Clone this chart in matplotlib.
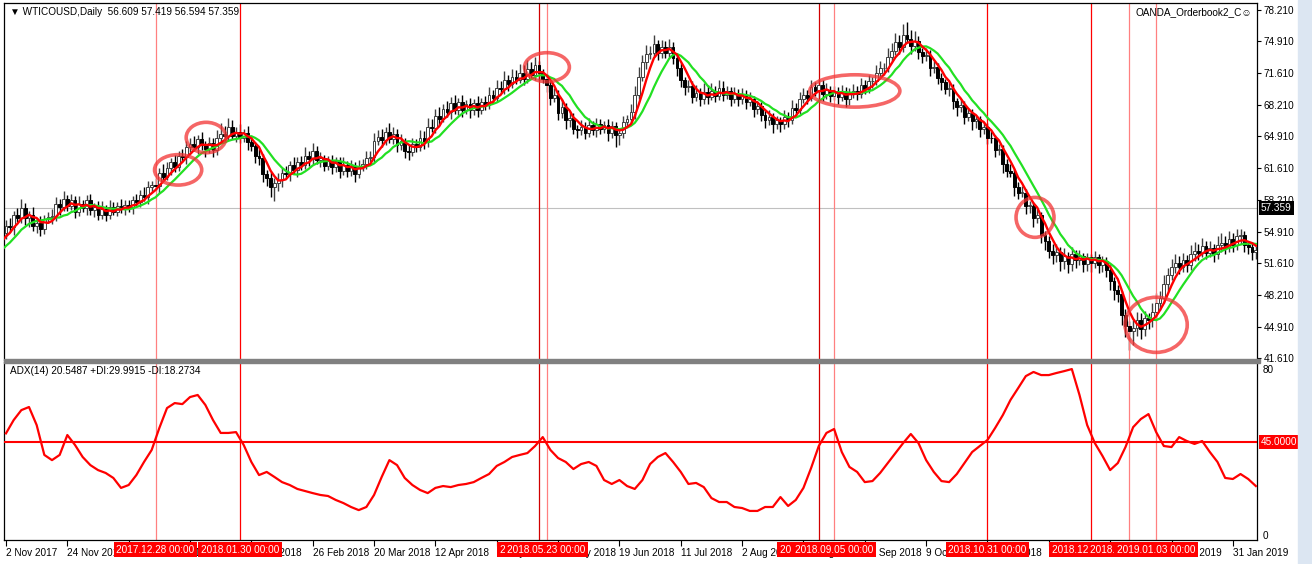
import numpy as np
import pandas as pd
import matplotlib
matplotlib.use('Agg')
import matplotlib.pyplot as plt
from matplotlib.patches import Ellipse, Rectangle
from matplotlib.transforms import blended_transform_factory

plt.rcParams['font.family'] = ['Liberation Sans', 'DejaVu Sans']
FS = 7.2

# daily closes, 10 bars before the visible window then 327 visible bars
n_pre = 10
closes = [
    51.5, 51.9, 52.3, 52.0, 52.6, 53.2, 53.6, 53.9, 54.2, 54.8,
    55.5, 55.4, 56.7, 56.3, 57.4, 56.3, 56.7, 55.5, 55.8, 55.2, 56.2, 56.4, 56.5, 57.8, 57.5, 58.3,
    57.6, 58.2, 57.0, 57.8, 57.4, 58.2, 57.2, 57.5, 56.6, 57.3, 56.7, 57.5, 57.0, 57.6, 57.3, 57.7,
    57.5, 58.2, 58.0, 58.8, 58.5, 59.6, 59.8, 59.7, 61.1, 60.7, 61.6, 62.2, 61.7, 62.9, 62.7, 63.8,
    64.1, 63.8, 64.6, 64.0, 63.6, 64.2, 63.5, 64.7, 65.2, 65.0, 65.9, 65.0, 65.4, 64.7, 65.3, 64.3,
    63.9, 62.9, 62.6, 61.0, 60.5, 59.6, 60.0, 60.3, 61.1, 61.0, 61.9, 61.4, 62.2, 61.9, 62.9, 62.5,
    63.4, 62.4, 62.6, 61.8, 62.3, 61.7, 62.3, 61.3, 61.9, 61.3, 61.8, 61.0, 61.7, 62.0, 62.6, 62.7,
    64.4, 64.9, 64.5, 65.4, 64.6, 65.2, 64.0, 64.4, 63.4, 63.3, 64.1, 63.8, 64.8, 64.3, 65.9, 65.8,
    67.1, 66.8, 67.8, 67.5, 68.4, 67.7, 68.5, 67.7, 68.3, 67.7, 68.4, 67.7, 68.5, 68.2, 69.3, 69.0,
    70.0, 69.9, 70.9, 70.4, 71.2, 70.9, 71.6, 71.0, 72.0, 71.4, 72.4, 71.6, 71.0, 70.3, 69.0, 69.3,
    67.4, 68.0, 66.6, 66.9, 65.7, 65.6, 65.9, 65.3, 66.1, 65.6, 66.2, 65.7, 66.1, 65.3, 66.0, 65.1,
    65.3, 66.4, 66.7, 67.5, 69.3, 71.2, 72.7, 73.6, 73.7, 74.6, 73.7, 74.3, 73.7, 74.3, 73.2, 72.1,
    70.8, 70.1, 70.2, 69.1, 69.5, 68.8, 69.6, 69.1, 69.7, 69.2, 70.0, 69.3, 69.7, 68.9, 69.4, 68.8,
    69.3, 68.5, 68.8, 67.8, 68.1, 67.2, 66.6, 67.0, 66.2, 66.6, 66.2, 67.0, 66.6, 67.9, 67.7, 68.9,
    69.3, 69.0, 70.1, 69.7, 70.3, 69.4, 69.8, 69.2, 69.7, 69.1, 69.6, 68.9, 69.5, 69.7, 69.4, 70.3,
    69.9, 70.7, 70.7, 71.6, 72.1, 72.1, 73.3, 73.9, 74.8, 74.3, 75.6, 75.2, 74.4, 75.0, 73.8, 73.4,
    73.5, 72.1, 72.2, 71.1, 70.6, 69.9, 69.9, 68.6, 68.0, 68.2, 67.0, 67.4, 66.5, 66.7, 65.7, 65.9,
    64.8, 64.7, 63.5, 63.6, 62.0, 61.3, 61.1, 59.6, 59.0, 59.0, 57.6, 57.6, 56.3, 56.6, 54.5, 53.9,
    52.9, 52.4, 52.8, 51.8, 52.3, 51.5, 52.5, 51.9, 52.3, 51.5, 52.2, 51.6, 52.2, 51.4, 51.8, 50.9,
    49.7, 48.8, 48.3, 46.1, 45.0, 44.4, 44.8, 45.6, 44.7, 45.8, 45.6, 46.5, 47.4, 47.9, 49.4, 50.3,
    51.2, 51.6, 51.2, 51.9, 51.4, 52.5, 52.9, 52.7, 53.4, 52.7, 53.2, 52.5, 53.5, 53.7, 53.3, 54.1,
    53.5, 54.4, 54.5, 53.5, 53.3, 52.8, 53.0,
]

wick_up = [
    .6, .8, .4, .7, .9, .5, .4, .8, .5, .7, .4, .6, .8, .7, .5, .9,
    .5, .7, .5, .8, .4, .6, .7, .4, .6, .8, .4, .7, .5, .4, .7, .5,
    .5, .4, .7, .5, .8, .6, .4, .7, .5, .9, .6, .4, .8, .5, .7, .6,
    .7, .9, .5, .8, .4, .7, .5, .9, 1.1, .8, 1.0, .7, .5, .8, .4, .7,
    .5, .4, .7, .5, .4, .7, .5, .8, .5, .7, .4, .8, .5, .7, .9, .5,
    .8, .5, .7, .4, .6, .7, .4, .5, .8, .4, .6, .4, .7, .5, .8, .7,
    .9, .7, .8, .5, .9, .7, .5, .8, .4, .6, .7, .5, .8, .7, 1.0, .8,
    .7, .9, .5, .8, .7, .9, .5, .8, .4, .7, .5, .8, .5, .7, .8, .5,
    .8, .7, .9, .5, .8, .7, .9, .8, 1.0, .7, .9, .5, .4, .5, .4, .7,
    .5, .8, .4, .7, .5, .4, .7, .5, .8, .4, .7, .5, .4, .7, .5, .4,
    .5, .7, .5, .8, .9, 1.0, .8, .9, .7, 1.0, .5, .8, .7, .9, .5, .4,
    .5, .4, .7, .5, .8, .5, .9, .7, .8, .5, .9, .7, .5, .4, .7, .5,
    .7, .5, .8, .4, .5, .4, .5, .7, .4, .5, .4, .7, .5, .8, .5, .7,
    .7, .5, .8, .5, .7, .5, .7, .4, .5, .4, .7, .5, .5, .7, .5, .8,
    .5, .7, .5, .8, .7, .5, .9, .8, 1.0, .8, 1.1, 1.3, .9, 1.0, .5, .4,
    .7, .5, .7, .4, .5, .4, .7, .5, .4, .7, .4, .5, .4, .5, .4, .5,
    .4, .7, .4, .5, .4, .5, .7, .4, .5, .7, .4, .5, .4, .7, .4, .5,
    .5, .7, .8, .5, .9, .5, .8, .5, .7, .4, .5, .4, .7, .4, .5, .4,
    .5, .4, .5, .4, .7, .5, .8, .9, .7, .8, .5, .9, 1.0, .8, .9, .8,
    .8, .9, .7, .8, .5, 1.0, .9, .7, .8, .5, .7, .4, .9, 1.1, .7, .9,
    .7, .8, .7, .5, .4, .5, .4,
]

wick_dn = [
    .7, .5, .8, .4, .5, .7, .9, .5, .7, .8, .5, .4, .7, .5, .8, .4,
    .5, .4, .7, .5, .4, .7, .5, .8, .5, .4, .7, .5, .4, .5, .4, .7,
    .5, .7, .4, .5, .4, .7, .5, .4, .7, .5, .4, .7, .5, .4, .5, .7,
    .5, .4, .7, .5, .8, .4, .7, .5, .4, .7, .5, .4, .7, .5, .4, .8,
    .5, .8, .7, .9, .8, 1.1, 1.5, .8, .7, .5, .8, .4, .7, .5, .4, .7,
    .5, .4, .7, .5, .4, .7, .5, .8, .4, .7, .5, .9, .5, .4, .5, .4,
    .5, .4, .7, .5, .4, .5, .7, .5, .8, .9, .4, .5, .4, .7, .5, .4,
    .5, .7, .4, .5, .7, .4, .5, .7, .4, .8, .5, .7, .4, .5, .4, .5,
    .5, .4, .5, .7, .4, .5, .4, .7, .5, .4, .5, .7, .5, .7, .8, .5,
    .8, .5, .9, .7, .5, .8, .5, .7, .4, .5, .7, .5, .4, .9, .5, 1.3,
    1.1, .5, .4, .5, .7, .4, .5, .7, .5, .4, .7, .5, .5, .4, .7, .8,
    .7, .8, .5, .7, .5, .7, .5, .8, .4, .7, .5, .7, .5, .8, .5, .7,
    .5, .7, .4, .8, .5, .7, .8, .5, .9, .5, .8, .5, .7, .4, .5, .4,
    .5, .7, .4, .5, .7, .8, .5, .7, .5, .8, .5, .9, .7, .5, .7, .4,
    .5, .4, .7, .4, .5, .7, .4, .5, .4, .7, .5, .4, .8, .5, .7, .8,
    .5, .8, .5, .7, .8, .5, .7, .8, .9, .5, .8, .5, .9, .7, .8, .5,
    .7, .5, .8, .5, .9, .7, .5, .9, .7, .5, .8, .7, .9, .5, .8, .9,
    .8, .9, .7, 1.0, .8, .9, .7, .8, .5, .8, .7, .9, .5, .8, .7, .8,
    .9, 1.1, .8, 1.0, 1.2, 2.0, 1.4, .9, 1.1, .8, .9, .7, .8, .7, .5, .7,
    .5, .7, .8, .5, .7, .5, .7, .8, .5, .7, .5, .8, .5, .7, .8, .5,
    .7, .5, .8, .7, .8, .9, .8,
]

# ADX(14), one reading every 2 bars
adx_step = 2
adx = [
    49.0, 55.4, 60.2, 61.7, 53.0, 38.6, 36.1, 38.6, 48.2, 43.4, 37.6, 33.7, 31.3, 29.9, 27.5, 22.7,
    24.1, 28.9, 35.2, 41.0, 51.6, 61.2, 63.6, 63.1, 66.5, 67.5, 62.7, 55.4, 49.2, 49.2, 49.6, 43.4,
    35.2, 28.9, 30.4, 28.0, 25.5, 24.1, 22.2, 21.2, 20.2, 19.3, 18.8, 16.9, 15.4, 13.5, 12.0, 13.5,
    19.3, 28.0, 36.1, 33.7, 27.5, 24.1, 21.7, 20.2, 22.7, 23.6, 23.1, 24.1, 24.6, 25.5, 27.5, 29.4,
    33.3, 35.2, 37.6, 38.6, 39.5, 42.9, 47.2, 41.0, 37.1, 35.2, 31.8, 34.2, 35.2, 33.3, 26.5, 24.6,
    26.5, 23.6, 22.2, 26.5, 34.2, 37.6, 39.5, 35.2, 30.4, 24.6, 25.1, 23.1, 17.8, 15.9, 15.9, 13.5,
    13.0, 11.6, 11.6, 13.5, 13.5, 18.3, 14.0, 16.9, 22.7, 32.3, 42.9, 49.2, 51.1, 40.0, 32.8, 30.4,
    25.5, 26.0, 29.9, 34.7, 39.5, 44.3, 48.7, 44.3, 36.1, 30.4, 26.0, 25.5, 29.4, 34.7, 40.0, 42.9,
    45.8, 51.6, 57.8, 65.1, 70.8, 76.6, 78.6, 77.1, 77.1, 78.1, 79.0, 80.0, 67.5, 53.0, 44.3, 38.1,
    31.3, 34.7, 42.4, 52.0, 55.9, 58.3, 49.6, 42.9, 42.4, 47.2, 45.3, 43.9, 45.3, 40.0, 35.2, 27.5,
    27.0, 29.4, 27.0, 23.6,
]
adx_level = 45.0

price_ticks = [41.61, 44.91, 48.21, 51.61, 54.91, 58.21, 61.61, 64.91, 68.21, 71.61, 74.91, 78.21]
last_price = 57.359

date_every = 16
date_labels = ['2 Nov 2017', '24 Nov 2017', '18 Dec 2017', '11 Jan 2018', '2 Feb 2018',
               '26 Feb 2018', '20 Mar 2018', '12 Apr 2018', '4 May 2018', '28 May 2018',
               '19 Jun 2018', '11 Jul 2018', '2 Aug 2018', '24 Aug 2018', '17 Sep 2018',
               '9 Oct 2018', '31 Oct 2018', '22 Nov 2018', '14 Dec 2018', '9 Jan 2019',
               '31 Jan 2019']

# vertical marker lines (bar index) and their time labels
vline_bars = [39, 61, 139, 141, 212, 216, 256, 283, 293, 300]
vline_labels = ['2017.12.28 00:00', '2018.01.30 00:00', '2018.05.21 00:00', '2018.05.23 00:00',
                '2018.08.30 00:00', '2018.09.05 00:00', '2018.10.31 00:00', '2018.12.07 00:00',
                '2018.12.21 00:00', '2019.01.03 00:00']
vline_colors = ['#ff8080', '#ff0000', '#d00000', '#ff8080', '#d00000', '#ff8080',
                '#ff0000', '#ff0000', '#ff8080', '#ff8080']

# hand-drawn circles: (bar, price, width in bars, height in price)
circles = [(44.9, 61.4, 12.3, 3.2), (52.2, 64.8, 10.4, 3.2), (141.1, 72.2, 11.7, 3.05),
           (221.4, 69.7, 23.5, 3.4), (268.4, 56.4, 9.9, 4.2), (300.0, 45.1, 16.2, 5.8)]

W, H = 1312, 564
fig = plt.figure(figsize=(W / 100, H / 100), dpi=100)
fig.patch.set_facecolor('white')

ax1 = fig.add_axes([4 / W, 1 - 360 / H, 1253 / W, 357 / H])
ax2 = fig.add_axes([4 / W, 1 - 540 / H, 1253 / W, 178 / H])

c = np.array(closes)
x = np.arange(len(c)) - n_pre
o = np.r_[c[0], c[:-1]]
vis = x >= 0
xv, cv, ov = x[vis], c[vis], o[vis]
hi = np.maximum(cv, ov) + np.array(wick_up)
lo = np.minimum(cv, ov) - np.array(wick_dn)
up = cv >= ov
body_lo = np.minimum(cv, ov)
body_h = np.maximum(np.abs(cv - ov), 0.06)

ax1.vlines(xv[up], lo[up], hi[up], color='#404040', lw=1.0, zorder=2)
ax1.vlines(xv[~up], lo[~up], hi[~up], color='black', lw=1.0, zorder=2)
ax1.bar(xv[up], body_h[up], bottom=body_lo[up], width=0.72, color='white',
        edgecolor='#404040', linewidth=0.7, zorder=3)
ax1.bar(xv[~up], body_h[~up], bottom=body_lo[~up], width=0.72, color='black',
        edgecolor='black', linewidth=0.7, zorder=3)

s = pd.Series(c)
ma_fast = s.rolling(5).mean()
ma_slow = s.rolling(10).mean()
ax1.plot(x, ma_slow, color='#22e022', lw=1.6, zorder=4)
ax1.plot(x, ma_fast, color='#ff0000', lw=1.7, zorder=5)

ax1.axhline(last_price, color='#c0c0c0', lw=0.8, zorder=1)

for bx, py, w, h in circles:
    ax1.add_patch(Ellipse((bx, py), w, h, fill=False, ec=(0.95, 0.2, 0.2, 0.75), lw=2.6, zorder=6))

xlim = (-0.52, 326.3)
ax1.set_xlim(*xlim)
ax1.set_ylim(41.40, 78.95)
ax1.set_xticks([])
ax1.yaxis.tick_right()
ax1.set_yticks(price_ticks)
ax1.set_yticklabels(['%.3f' % v for v in price_ticks])
ax1.tick_params(axis='y', length=3, width=0.8, pad=2, labelsize=FS)
ax1.spines['bottom'].set_visible(False)

# ADX panel
xa = np.arange(len(adx)) * adx_step
ax2.plot(xa, adx, color='#ff0000', lw=1.6, zorder=4)
ax2.axhline(adx_level, color='#ff0000', lw=1.5, zorder=3)
ax2.set_xlim(*xlim)
ax2.set_ylim(-2.41, 83.4)
ax2.yaxis.tick_right()
ax2.set_yticks([0, 80])
ax2.set_yticklabels(['0', '80'])
ax2.tick_params(axis='y', length=0, pad=4, labelsize=FS)
tick_pos = np.arange(len(date_labels)) * date_every
ax2.set_xticks(tick_pos)
ax2.set_xticklabels(date_labels, ha='left')
ax2.tick_params(axis='x', length=4, width=0.8, pad=2, labelsize=FS)
ax2.spines['top'].set_visible(False)

for ax in (ax1, ax2):
    for sp in ax.spines.values():
        sp.set_linewidth(0.9)
    for bx, col in zip(vline_bars, vline_colors):
        ax.axvline(bx, color=col, lw=0.9, zorder=2)

# time labels of the vertical lines on the date axis
tb = blended_transform_factory(ax2.transData, ax2.transAxes)
for bx, lab in zip(vline_bars, vline_labels):
    ax2.text(bx, -0.056, lab, transform=tb, ha='center', va='center', color='white',
             fontsize=FS, zorder=10, clip_on=False,
             bbox=dict(boxstyle='square,pad=0.25', fc='#ff0000', ec='none'))

# value labels on the price scales
tp = blended_transform_factory(ax1.transAxes, ax1.transData)
ax1.text(1.003, last_price, '%.3f' % last_price, transform=tp, ha='left', va='center',
         color='white', fontsize=FS, clip_on=False, zorder=10,
         bbox=dict(boxstyle='square,pad=0.2', fc='black', ec='none'))
ta = blended_transform_factory(ax2.transAxes, ax2.transData)
ax2.text(1.003, adx_level, '%.4f' % adx_level, transform=ta, ha='left', va='center',
         color='white', fontsize=FS, clip_on=False, zorder=10,
         bbox=dict(boxstyle='square,pad=0.2', fc='#ff0000', ec='none'))

# header texts
fig.text(10 / W, 1 - 12 / H, '\u25bc WTICOUSD,Daily  56.609 57.419 56.594 57.359',
         fontsize=FS, va='center', ha='left')
fig.text(1252 / W, 1 - 12 / H, 'OANDA_Orderbook2_C\u263a', fontsize=FS, va='center', ha='right')
fig.text(10 / W, 1 - 371 / H, 'ADX(14) 20.5487 +DI:29.9915 -DI:18.2734',
         fontsize=FS, va='center', ha='left')

# panel separator and side strip
fig.patches.append(Rectangle((4 / W, 1 - 363 / H), 1256 / W, 4 / H, transform=fig.transFigure,
                             color='#808080', zorder=20))
fig.patches.append(Rectangle((1298 / W, 0), 14 / W, 1, transform=fig.transFigure,
                             color='#dce6f2', zorder=0))

fig.savefig('out.png', dpi=100)
